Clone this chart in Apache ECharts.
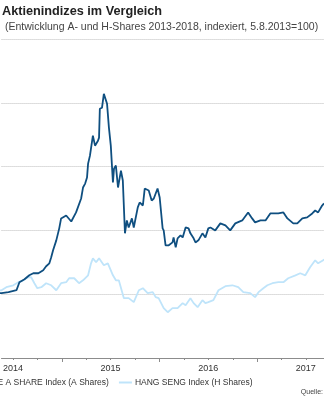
<!DOCTYPE html>
<html>
<head>
<meta charset="utf-8">
<script src="https://cdn.jsdelivr.net/npm/echarts@6/dist/echarts.min.js"></script>
<style>
  html, body { margin: 0; padding: 0; background: #ffffff; }
  #chart { width: 324px; height: 400px; }
</style>
</head>
<body>
<div id="chart"></div>
<script>
// Index levels, 5.8.2013 = 100
const aSharesDates = [
  '2013-08-05','2014-05-19','2014-06-14','2014-07-14','2014-07-25','2014-08-13','2014-08-31','2014-09-15',
  '2014-10-04','2014-10-22','2014-11-02','2014-11-14','2014-11-21','2014-11-28','2014-12-10','2014-12-21',
  '2014-12-28','2015-01-16','2015-02-04','2015-02-22','2015-03-13','2015-03-20','2015-03-28','2015-04-04',
  '2015-04-08','2015-04-15','2015-04-26','2015-05-04','2015-05-15','2015-05-19','2015-05-22','2015-05-30',
  '2015-06-06','2015-06-18','2015-06-25','2015-07-02','2015-07-10','2015-07-14','2015-07-21','2015-07-29',
  '2015-08-09','2015-08-16','2015-08-24','2015-08-31','2015-09-07','2015-09-19','2015-09-26','2015-10-11',
  '2015-10-18','2015-10-30','2015-11-06','2015-11-21','2015-12-02','2015-12-10','2015-12-24','2016-01-01',
  '2016-01-12','2016-01-16','2016-01-23','2016-02-04','2016-02-18','2016-02-22','2016-03-01','2016-03-08',
  '2016-03-19','2016-03-27','2016-04-07','2016-04-18','2016-04-25','2016-05-07','2016-05-14','2016-05-25',
  '2016-06-09','2016-06-20','2016-07-01','2016-07-09','2016-07-27','2016-08-15','2016-09-03','2016-09-21',
  '2016-10-10','2016-11-05','2016-11-27','2016-12-12','2016-12-23','2017-01-12','2017-01-31','2017-02-18',
  '2017-03-20','2017-04-08','2017-04-23','2017-05-15','2017-05-30','2017-06-18','2017-07-06','2017-07-25',
  '2017-08-05','2017-08-16','2017-08-31','2017-09-07'
];
const aSharesValues = [
  100, 100.8, 101.6, 103.1, 109.4, 111.7, 114.8, 116.4,
  116.4, 118.8, 121.9, 124.2, 128.9, 134.4, 142.2, 151.6,
  159.4, 161.7, 157.0, 164.1, 175.0, 183.6, 186.7, 191.4,
  202.3, 208.6, 224.2, 216.4, 220.3, 222.7, 245.3, 246.1,
  257.0, 249.2, 230.5, 216.4, 187.5, 198.4, 200.8, 183.6,
  196.9, 189.1, 147.7, 157.8, 152.3, 159.4, 152.3, 168.0,
  171.9, 169.5, 182.8, 181.3, 173.4, 175.0, 182.8, 175.8,
  151.6, 150.0, 138.3, 138.3, 140.6, 144.5, 136.7, 143.8,
  146.1, 144.5, 152.3, 151.6, 147.7, 143.8, 140.6, 142.2,
  147.7, 144.5, 151.6, 152.3, 150.0, 155.5, 153.9, 150.0,
  155.5, 157.8, 164.1, 159.4, 156.3, 157.8, 157.8, 163.3,
  163.3, 164.1, 159.4, 155.5, 155.5, 159.4, 160.2, 163.3,
  165.6, 164.1, 169.5, 171.1
];

const hSharesDates = [
  '2013-08-05','2014-05-19','2014-06-06','2014-07-02','2014-07-21','2014-08-09','2014-08-27','2014-09-07',
  '2014-09-19','2014-09-30','2014-10-15','2014-11-02','2014-11-21','2014-12-10','2014-12-28','2015-01-16',
  '2015-01-27','2015-02-15','2015-03-05','2015-03-20','2015-04-08','2015-04-19','2015-04-26','2015-05-08',
  '2015-05-19','2015-05-26','2015-06-06','2015-06-21','2015-07-10','2015-07-21','2015-08-01','2015-08-20',
  '2015-09-07','2015-09-26','2015-10-15','2015-10-30','2015-11-17','2015-12-06','2015-12-17','2015-12-28',
  '2016-01-16','2016-01-31','2016-02-18','2016-03-08','2016-03-27','2016-04-07','2016-04-25','2016-05-07',
  '2016-05-22','2016-06-09','2016-06-20','2016-07-01','2016-07-20','2016-08-08','2016-09-03','2016-09-29',
  '2016-10-21','2016-11-09','2016-12-05','2016-12-23','2017-01-05','2017-01-23','2017-02-07','2017-02-26',
  '2017-03-20','2017-04-08','2017-04-26','2017-05-23','2017-06-10','2017-06-29','2017-07-17','2017-08-05',
  '2017-08-16','2017-09-04','2017-09-07'
];
const hSharesValues = [
  100, 103.1, 105.5, 107.0, 109.4, 110.9, 113.3, 113.3,
  108.6, 104.7, 105.5, 108.6, 107.0, 103.1, 108.6, 109.4,
  112.5, 112.5, 108.6, 110.9, 114.8, 124.2, 128.1, 125.0,
  128.1, 128.1, 122.7, 124.2, 114.8, 110.9, 110.9, 96.9,
  96.9, 93.8, 103.1, 104.7, 100.8, 101.6, 97.7, 96.9,
  89.1, 85.9, 89.1, 89.1, 93.0, 91.4, 96.9, 93.0,
  89.8, 95.3, 93.0, 93.8, 95.3, 103.1, 106.3, 107.0,
  105.5, 101.6, 100.8, 97.7, 101.6, 104.7, 107.0, 108.6,
  109.4, 109.4, 112.5, 114.8, 116.4, 114.8, 121.1, 126.6,
  124.2, 126.6, 127.3
];

// Visible time window and axis marks
const viewStart = '2014-05-19';
const viewEnd = '2017-09-07';
const quarterTicks = [
  '2014-07-01','2014-10-01','2015-04-01','2015-07-01','2015-10-01',
  '2016-04-01','2016-07-01','2016-10-01','2017-04-01','2017-07-01'
];
const yearStartTicks = ['2015-01-01','2016-01-01','2017-01-01'];
const yearLabelDates = ['2014-07-01','2015-07-01','2016-07-01','2017-07-01'];

const seriesNames = ['SHANGHAI SE A SHARE Index (A Shares)', 'HANG SENG Index (H Shares)'];

const FONT = '"Liberation Sans", Arial, Helvetica, sans-serif';
const ts = s => { const p = s.split('-').map(Number); return new Date(p[0], p[1] - 1, p[2]).getTime(); };
const pairs = (dates, values) => dates.map((d, i) => [ts(d), values[i]]);

const chart = echarts.init(document.getElementById('chart'), null, { renderer: 'canvas' });

chart.setOption({
  animation: false,
  backgroundColor: '#ffffff',
  title: [
    { text: 'Aktienindizes im Vergleich', left: 2, top: 5, padding: 0,
      textStyle: { fontFamily: FONT, fontSize: 12.7, fontWeight: 'bold', color: '#222222' } },
    { text: '(Entwicklung A- und H-Shares 2013-2018, indexiert, 5.8.2013=100)', left: 5, top: 22, padding: 0,
      textStyle: { fontFamily: FONT, fontSize: 10.5, fontWeight: 'normal', color: '#444444' } },
    { text: 'Quelle:', right: 1, top: 389, padding: 0,
      textStyle: { fontFamily: FONT, fontSize: 7, fontWeight: 'normal', color: '#444444' } }
  ],
  legend: {
    data: seriesNames,
    left: -71,
    top: 378,
    icon: 'rect',
    itemWidth: 13,
    itemHeight: 2,
    itemGap: 10,
    padding: 0,
    textStyle: { fontFamily: FONT, fontSize: 8.5, color: '#333333', padding: [0, 0, 0, -2] }
  },
  grid: { left: 0, right: 0, top: 39, bottom: 42, containLabel: false },
  xAxis: [
    {
      type: 'value',
      min: ts(viewStart),
      max: ts(viewEnd),
      axisLine: { onZero: false, lineStyle: { color: '#8c8c8c', width: 1 } },
      axisTick: { customValues: quarterTicks.map(ts), length: 2, lineStyle: { color: '#8c8c8c' } },
      axisLabel: {
        customValues: yearLabelDates.map(ts),
        formatter: v => String(new Date(v).getFullYear()),
        fontFamily: FONT, fontSize: 9, color: '#333333', margin: 6
      },
      splitLine: { show: false }
    },
    {
      type: 'value',
      position: 'bottom',
      min: ts(viewStart),
      max: ts(viewEnd),
      axisLine: { show: false, onZero: false },
      axisTick: { customValues: yearStartTicks.map(ts), length: 4, lineStyle: { color: '#8c8c8c' } },
      axisLabel: { show: false },
      splitLine: { show: false }
    }
  ],
  yAxis: {
    type: 'value',
    min: 50,
    max: 300,
    interval: 50,
    axisLine: { show: false },
    axisTick: { show: false },
    axisLabel: { show: false },
    splitLine: { lineStyle: { type: 'dotted', color: '#bdbdbd', width: 1 } }
  },
  series: [
    {
      name: seriesNames[1],
      type: 'line',
      data: pairs(hSharesDates, hSharesValues),
      symbol: 'none',
      clip: true,
      lineStyle: { color: '#bfe4fa', width: 1.8 },
      itemStyle: { color: '#bfe4fa' },
      z: 2
    },
    {
      name: seriesNames[0],
      type: 'line',
      data: pairs(aSharesDates, aSharesValues),
      symbol: 'none',
      clip: true,
      lineStyle: { color: '#0f4f80', width: 1.8 },
      itemStyle: { color: '#0f4f80' },
      z: 3
    }
  ]
});
</script>
</body>
</html>
